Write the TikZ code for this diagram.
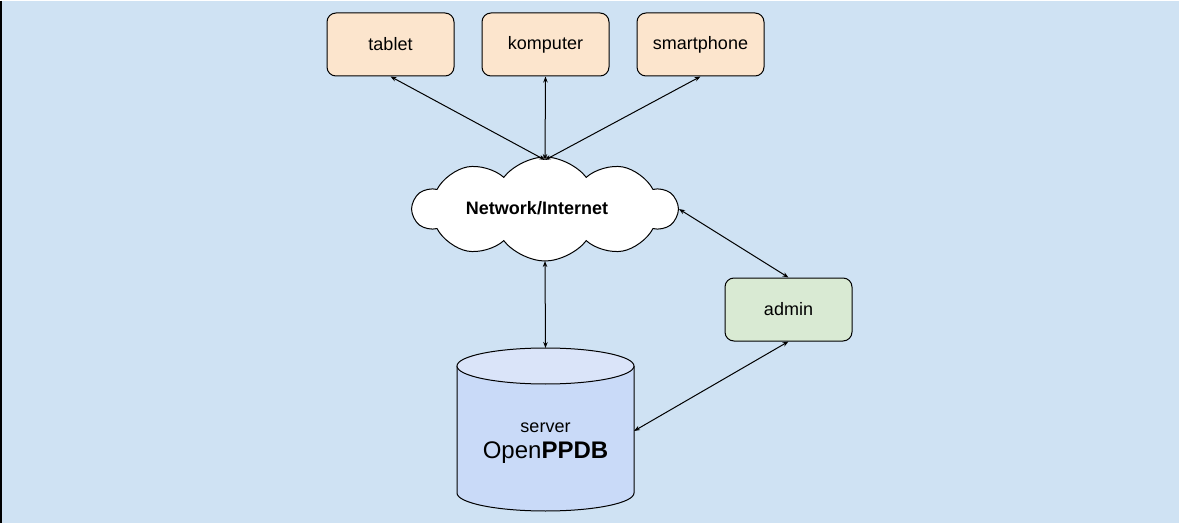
\documentclass[tikz,border=0pt]{standalone}
\usepackage{fontspec}
\setmainfont{Liberation Sans}
\usetikzlibrary{shapes.symbols,shapes.geometric,arrows.meta}
\definecolor{bgblue}{HTML}{CFE2F3}
\definecolor{peach}{HTML}{FCE5CD}
\definecolor{mint}{HTML}{D9EAD3}
\definecolor{dbbody}{HTML}{C9DAF8}
\definecolor{dbtop}{HTML}{DAE4F9}
\begin{document}
\begin{tikzpicture}[x=1pt, y=-1pt,
	device/.style={draw=black, line width=1pt, fill=peach, rounded corners=9pt,
		minimum width=127pt, minimum height=63pt, font=\fontsize{18}{20}\selectfont},
	adminbox/.style={device, fill=mint},
	link/.style={line width=1pt, {Stealth[length=6pt,width=4.5pt]}-{Stealth[length=6pt,width=4.5pt]}}]
			%%%%% START %%%%%
			
			\fill[bgblue] (0, 0) rectangle (1179, 522);
			\draw[line width=2pt] (1, 0) -- (1, 522);
			\useasboundingbox (0, 0) rectangle (1179, 522);
			
			\node[device] (tablet) at (390.5, 43.5) {tablet};
			\node[device] (komputer) at (545.5, 43.5) {komputer};
			\node[device] (smartphone) at (700.5, 43.5) {smartphone};
			
			\node[cloud, cloud puffs=10, cloud puff arc=105, aspect=2.6, draw=black, line width=1pt, fill=white,
				minimum width=264pt, minimum height=104pt, inner sep=0pt] (net) at (545, 208) {};
			\node[font=\bfseries\fontsize{18}{20}\selectfont] (nettext) at (537, 207) {Network/Internet};
			\coordinate (netbot) at (545, 260);
			\coordinate (nettop) at (545, 159);
			
			\node[adminbox] (admin) at (788.5, 308.5) {admin};
			
			% server cylinder
			\draw[line width=1pt, fill=dbbody] (457, 365) -- (457, 492) arc (180:0:88.5 and 18) -- (634, 365);
			\draw[line width=1pt, fill=dbtop] (545.5, 365) ellipse (88.5 and 18);
			\coordinate (dbtopc) at (545.5, 347);
			\coordinate (dbright) at (634, 430);
			\node[font=\fontsize{18}{20}\selectfont] (srv) at (545.5, 427) {server};
			\node[font=\fontsize{24}{26}\selectfont] (ppdb) at (545.5, 452) {Open\textbf{PPDB}};
			
			\draw[link] (tablet.south) -- (nettop);
			\draw[link] (komputer.south) -- (nettop);
			\draw[link] (smartphone.south) -- (nettop);
			\draw[link] (net.east) -- (admin.north);
			\draw[link] (netbot) -- (dbtopc);
			\draw[link] (admin.south) -- (dbright);
			
			%%%%% END %%%%%
\end{tikzpicture}
\end{document}
